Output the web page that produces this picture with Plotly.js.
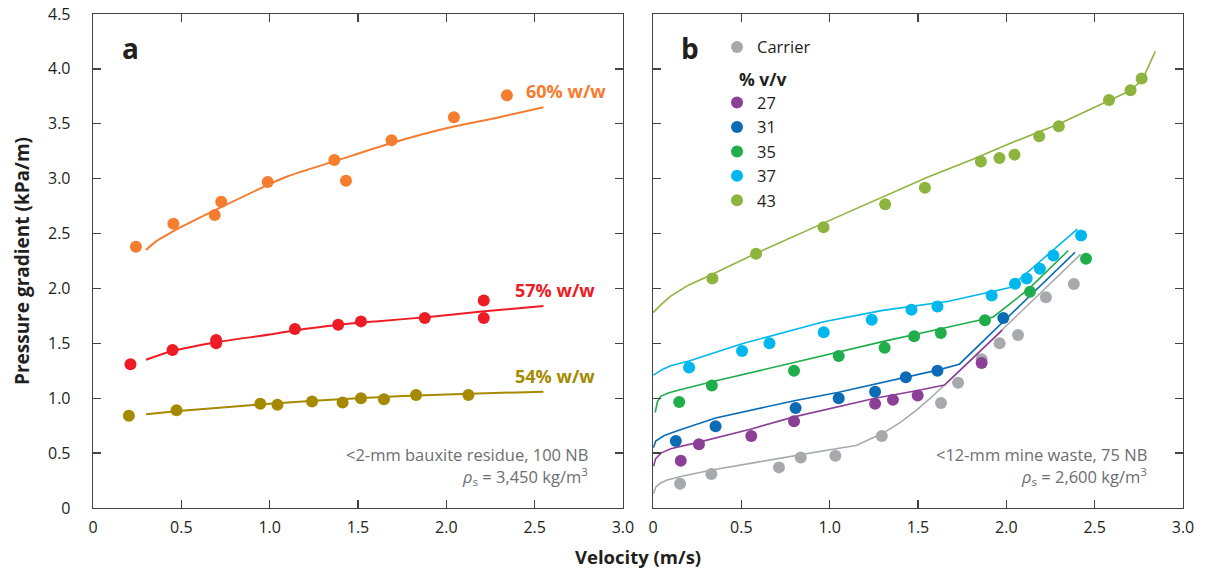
<!DOCTYPE html>
<html>
<head>
<meta charset="utf-8">
<script src="https://cdn.plot.ly/plotly-3.0.1.min.js"></script>
<style>
  html, body { margin: 0; padding: 0; background: #fff; }
  #chart { width: 1205px; height: 572px; }
</style>
</head>
<body>
<div id="chart"></div>
<script>
// ---- Panel a: <2-mm bauxite residue (measured points and model curves) ----
const w60X = [0.243, 0.455, 0.689, 0.726, 0.989, 1.366, 1.432, 1.69, 2.043, 2.343];
const w60Y = [2.38, 2.59, 2.67, 2.79, 2.97, 3.17, 2.98, 3.35, 3.56, 3.76];
const w60FitX = [0.30, 0.35, 0.40, 0.50, 0.70, 1.00, 1.10, 1.37, 1.70, 2.00, 2.30, 2.55];
const w60FitY = [2.35, 2.42, 2.47, 2.56, 2.72, 2.95, 3.02, 3.16, 3.33, 3.46, 3.56, 3.65];

const w57X = [0.212, 0.45, 0.697, 0.697, 1.143, 1.388, 1.517, 1.878, 2.212, 2.212];
const w57Y = [1.31, 1.44, 1.50, 1.53, 1.63, 1.67, 1.70, 1.73, 1.89, 1.73];
const w57FitX = [0.30, 0.45, 0.70, 1.00, 1.15, 1.40, 1.60, 1.90, 2.20, 2.55];
const w57FitY = [1.35, 1.43, 1.51, 1.58, 1.62, 1.67, 1.70, 1.74, 1.79, 1.84];

const w54X = [0.203, 0.473, 0.947, 1.044, 1.24, 1.413, 1.517, 1.647, 1.829, 2.125];
const w54Y = [0.84, 0.89, 0.95, 0.94, 0.97, 0.96, 1.00, 0.99, 1.03, 1.03];
const w54FitX = [0.30, 0.50, 1.00, 1.50, 2.00, 2.55];
const w54FitY = [0.855, 0.885, 0.95, 1.00, 1.035, 1.06];

// ---- Panel b: <12-mm mine waste (carrier and % v/v series) ----
const carrierX = [0.153, 0.33, 0.713, 0.836, 1.032, 1.295, 1.63, 1.727, 1.86, 1.962, 2.066, 2.224, 2.382];
const carrierY = [0.22, 0.31, 0.37, 0.46, 0.475, 0.655, 0.956, 1.14, 1.355, 1.50, 1.576, 1.92, 2.04];
const carrierFitX = [0.003, 0.015, 0.04, 0.08, 0.157, 0.333, 0.60, 0.84, 1.00, 1.15, 1.22, 1.30, 1.40, 1.49, 1.57, 1.65, 1.80, 2.00, 2.20, 2.42];
const carrierFitY = [0.13, 0.19, 0.225, 0.255, 0.287, 0.346, 0.42, 0.49, 0.53, 0.57, 0.62, 0.68, 0.78, 0.89, 1.00, 1.12, 1.35, 1.66, 1.97, 2.31];

const v27X = [0.157, 0.26, 0.556, 0.798, 1.257, 1.358, 1.498, 1.86];
const v27Y = [0.43, 0.58, 0.655, 0.79, 0.95, 0.985, 1.025, 1.32];
const v27FitX = [0.003, 0.015, 0.045, 0.10, 0.26, 0.556, 0.798, 1.257, 1.498, 1.65, 1.977];
const v27FitY = [0.38, 0.45, 0.50, 0.54, 0.60, 0.72, 0.83, 1.00, 1.07, 1.12, 1.62];

const v31X = [0.129, 0.354, 0.807, 1.051, 1.257, 1.431, 1.61, 1.983];
const v31Y = [0.61, 0.745, 0.91, 1.00, 1.06, 1.19, 1.25, 1.73];
const v31FitX = [0.003, 0.015, 0.064, 0.15, 0.354, 0.807, 1.051, 1.431, 1.61, 1.734, 2.389];
const v31FitY = [0.55, 0.61, 0.66, 0.71, 0.82, 0.98, 1.055, 1.19, 1.256, 1.31, 2.33];

const v35X = [0.148, 0.333, 0.798, 1.051, 1.311, 1.478, 1.629, 1.879, 2.134, 2.451];
const v35Y = [0.965, 1.115, 1.25, 1.385, 1.46, 1.565, 1.595, 1.71, 1.97, 2.27];
const v35FitX = [0.012, 0.025, 0.045, 0.09, 0.148, 0.333, 0.798, 1.311, 1.674, 1.926, 2.13, 2.351];
const v35FitY = [0.87, 0.97, 1.02, 1.05, 1.075, 1.15, 1.325, 1.52, 1.648, 1.74, 2.00, 2.346];

const v37X = [0.204, 0.504, 0.659, 0.966, 1.238, 1.463, 1.61, 1.917, 2.049, 2.115, 2.19, 2.266, 2.423];
const v37Y = [1.28, 1.43, 1.50, 1.60, 1.715, 1.805, 1.835, 1.936, 2.043, 2.09, 2.18, 2.30, 2.483];
const v37FitX = [0.003, 0.05, 0.10, 0.204, 0.504, 0.966, 1.30, 1.674, 2.021, 2.402];
const v37FitY = [1.21, 1.26, 1.295, 1.34, 1.497, 1.696, 1.80, 1.883, 2.009, 2.541];

const v43X = [0.336, 0.583, 0.965, 1.314, 1.539, 1.856, 1.961, 2.046, 2.186, 2.297, 2.581, 2.703, 2.766];
const v43Y = [2.09, 2.315, 2.557, 2.768, 2.917, 3.156, 3.189, 3.219, 3.386, 3.477, 3.716, 3.806, 3.912];
const v43FitX = [0.0, 0.05, 0.10, 0.20, 0.336, 0.583, 1.00, 1.30, 1.55, 1.80, 2.05, 2.30, 2.58, 2.70, 2.77, 2.80, 2.843];
const v43FitY = [1.78, 1.86, 1.93, 2.03, 2.13, 2.32, 2.62, 2.83, 3.01, 3.17, 3.34, 3.50, 3.71, 3.80, 3.90, 4.01, 4.16];

// ---- Tick labels ----
const yTickVals = [0, 0.5, 1, 1.5, 2, 2.5, 3, 3.5, 4, 4.5];
const yTickText = ['0', '0.5', '1.0', '1.5', '2.0', '2.5', '3.0', '3.5', '4.0', '4.5'];
const xTickVals = [0, 0.5, 1, 1.5, 2, 2.5, 3];
const xTickText = ['0', '0.5', '1.0', '1.5', '2.0', '2.5', '3.0'];

const FONT = 'Open Sans, Noto Sans, sans-serif';
const INK = '#231f20';
const AXIS = '#444444';
const NOTE = '#6d6e71';

const traces = [];

function addSeries(opts) {
  const xa = opts.panel === 'b' ? 'x2' : 'x';
  const ya = opts.panel === 'b' ? 'y2' : 'y';
  traces.push({
    type: 'scatter', mode: 'markers',
    x: opts.x, y: opts.y, xaxis: xa, yaxis: ya,
    name: opts.name, legendgroup: opts.group,
    showlegend: !!opts.legend,
    marker: { color: opts.color, size: 12, line: { width: 0 } },
    hoverinfo: 'x+y+name'
  });
  traces.push({
    type: 'scatter', mode: 'lines',
    x: opts.fx, y: opts.fy, xaxis: xa, yaxis: ya,
    name: opts.name + ' model', legendgroup: opts.group,
    showlegend: false,
    line: { color: opts.color, width: opts.lw, shape: opts.shape || 'linear', smoothing: 0.8 },
    hoverinfo: 'skip'
  });
}

// panel b first so the legend lists Carrier, then the % v/v group
addSeries({ panel: 'b', name: 'Carrier', group: 'carrier', legend: true, color: '#a7a9ac', x: carrierX, y: carrierY, fx: carrierFitX, fy: carrierFitY, lw: 1.6 });
addSeries({ panel: 'b', name: '27', group: 'vv', legend: true, color: '#8c3f97', x: v27X, y: v27Y, fx: v27FitX, fy: v27FitY, lw: 1.6 });
addSeries({ panel: 'b', name: '31', group: 'vv', legend: true, color: '#0b6cb5', x: v31X, y: v31Y, fx: v31FitX, fy: v31FitY, lw: 1.6 });
addSeries({ panel: 'b', name: '35', group: 'vv', legend: true, color: '#20ad4b', x: v35X, y: v35Y, fx: v35FitX, fy: v35FitY, lw: 1.6 });
addSeries({ panel: 'b', name: '37', group: 'vv', legend: true, color: '#00b7ee', x: v37X, y: v37Y, fx: v37FitX, fy: v37FitY, lw: 1.6 });
addSeries({ panel: 'b', name: '43', group: 'vv', legend: true, color: '#8db43e', x: v43X, y: v43Y, fx: v43FitX, fy: v43FitY, lw: 1.6 });

addSeries({ panel: 'a', name: '60% w/w', group: 'a60', color: '#f47d30', x: w60X, y: w60Y, fx: w60FitX, fy: w60FitY, lw: 2, shape: 'spline' });
addSeries({ panel: 'a', name: '57% w/w', group: 'a57', color: '#ed1c24', x: w57X, y: w57Y, fx: w57FitX, fy: w57FitY, lw: 2, shape: 'spline' });
addSeries({ panel: 'a', name: '54% w/w', group: 'a54', color: '#a58a00', x: w54X, y: w54Y, fx: w54FitX, fy: w54FitY, lw: 2, shape: 'spline' });

function xAxis(domain, anchor) {
  return {
    domain: domain, anchor: anchor, range: [0, 3],
    tickmode: 'array', tickvals: xTickVals, ticktext: xTickText,
    ticks: 'inside', ticklen: 8, tickwidth: 1.3, tickcolor: AXIS,
    showline: true, linecolor: AXIS, linewidth: 1.3, mirror: 'ticks',
    showgrid: false, zeroline: false,
    tickfont: { family: FONT, size: 16, color: INK },
    ticklabelstandoff: 4, fixedrange: true
  };
}
function yAxis(anchor, labels) {
  return {
    anchor: anchor, range: [0, 4.5], domain: [0, 1],
    tickmode: 'array', tickvals: yTickVals, ticktext: yTickText,
    ticks: 'inside', ticklen: 8, tickwidth: 1.3, tickcolor: AXIS,
    showline: true, linecolor: AXIS, linewidth: 1.3, mirror: 'ticks',
    showgrid: false, zeroline: false, showticklabels: labels,
    tickfont: { family: FONT, size: 16, color: INK },
    ticklabelstandoff: 18, fixedrange: true
  };
}

const noteFont = { family: FONT, size: 16.5, color: NOTE };
const labelFont = (c) => ({ family: FONT, size: 18, color: c });

const annotations = [
  { xref: 'x', yref: 'y', x: 0.21, y: 4.19, text: '<b>a</b>', showarrow: false, xanchor: 'center', yanchor: 'middle', font: { family: FONT, size: 28, color: INK } },
  { xref: 'x2', yref: 'y2', x: 0.21, y: 4.19, text: '<b>b</b>', showarrow: false, xanchor: 'center', yanchor: 'middle', font: { family: FONT, size: 28, color: INK } },
  { xref: 'x', yref: 'y', x: 2.44, y: 3.80, text: '<b>60% w/w</b>', showarrow: false, xanchor: 'left', yanchor: 'middle', font: labelFont('#f47d30') },
  { xref: 'x', yref: 'y', x: 2.377, y: 1.99, text: '<b>57% w/w</b>', showarrow: false, xanchor: 'left', yanchor: 'middle', font: labelFont('#ed1c24') },
  { xref: 'x', yref: 'y', x: 2.377, y: 1.205, text: '<b>54% w/w</b>', showarrow: false, xanchor: 'left', yanchor: 'middle', font: labelFont('#a58a00') },
  { xref: 'x', yref: 'y', x: 2.813, y: 0.485, text: '&lt;2-mm bauxite residue, 100 NB', showarrow: false, xanchor: 'right', yanchor: 'middle', font: noteFont },
  { xref: 'x', yref: 'y', x: 2.813, y: 0.285, text: '<i>ρ</i><sub>s</sub> = 3,450 kg/m<sup>3</sup>', showarrow: false, xanchor: 'right', yanchor: 'middle', font: noteFont },
  { xref: 'x2', yref: 'y2', x: 2.807, y: 0.485, text: '&lt;12-mm mine waste, 75 NB', showarrow: false, xanchor: 'right', yanchor: 'middle', font: noteFont },
  { xref: 'x2', yref: 'y2', x: 2.807, y: 0.285, text: '<i>ρ</i><sub>s</sub> = 2,600 kg/m<sup>3</sup>', showarrow: false, xanchor: 'right', yanchor: 'middle', font: noteFont },
  { xref: 'x2', yref: 'y2', x: 0.475, y: 3.91, text: '<b>% v/v</b>', showarrow: false, xanchor: 'left', yanchor: 'middle', font: { family: FONT, size: 17.5, color: INK } },
  // shared axis titles
  { xref: 'paper', yref: 'paper', x: 0.5, y: -0.099, text: '<b>Velocity (m/s)</b>', showarrow: false, xanchor: 'center', yanchor: 'middle', font: { family: FONT, size: 18.5, color: INK } },
  { xref: 'paper', yref: 'paper', x: -0.0651, y: 0.5, text: '<b>Pressure gradient (kPa/m)</b>', textangle: -90, showarrow: false, xanchor: 'center', yanchor: 'middle', font: { family: FONT, size: 19, color: INK } }
];

const layout = {
  width: 1205, height: 572,
  margin: { l: 93, r: 22, t: 14, b: 64, pad: 0 },
  paper_bgcolor: '#ffffff', plot_bgcolor: '#ffffff',
  font: { family: FONT, color: INK },
  xaxis: xAxis([0, 0.4862], 'y'),
  yaxis: yAxis('x', true),
  xaxis2: xAxis([0.5138, 1], 'y2'),
  yaxis2: yAxis('x2', false),
  showlegend: true,
  legend: {
    x: 0.5725, y: 0.968, xanchor: 'left', yanchor: 'top',
    bgcolor: 'rgba(0,0,0,0)', borderwidth: 0,
    traceorder: 'grouped', tracegroupgap: 31,
    font: { family: FONT, size: 16.5, color: INK },
    itemclick: false, itemdoubleclick: false
  },
  annotations: annotations
};

Plotly.newPlot('chart', traces, layout, { displayModeBar: false, staticPlot: true });
</script>
</body>
</html>
